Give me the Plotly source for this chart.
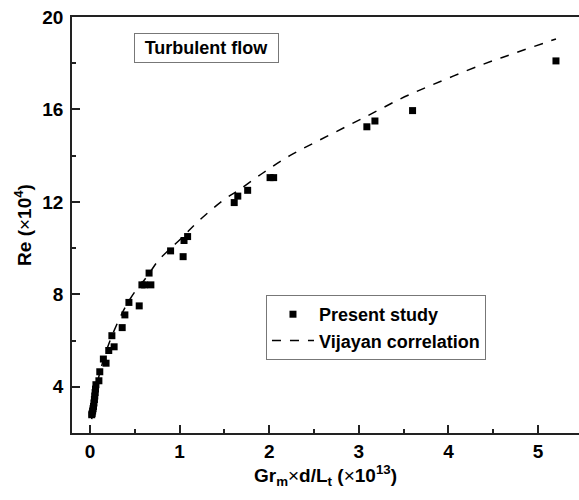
import plotly.graph_objects as go

# Present study data (Gr_m*d/L_t in 1e13, Re in 1e4)
study_x = [5.20, 3.60, 3.18, 3.09, 2.05, 2.01, 1.76, 1.65, 1.61, 1.09, 1.05, 0.90, 1.04,
           0.66, 0.58, 0.61, 0.68, 0.435, 0.55, 0.39, 0.36, 0.245, 0.27, 0.21, 0.15, 0.18,
           0.11, 0.10, 0.067, 0.062, 0.058, 0.054, 0.050, 0.045, 0.040, 0.035, 0.030,
           0.025, 0.020]
study_y = [18.10, 15.95, 15.50, 15.25, 13.05, 13.05, 12.50, 12.25, 11.97, 10.50, 10.33, 9.88, 9.63,
           8.92, 8.41, 8.41, 8.41, 7.65, 7.50, 7.11, 6.56, 6.21, 5.73, 5.57, 5.20, 5.02,
           4.65, 4.26, 4.09, 3.90, 3.75, 3.60, 3.45, 3.30, 3.15, 3.05, 2.95,
           2.85, 2.79]

# Vijayan correlation curve
curve_x = [0.02, 0.05, 0.10, 0.17, 0.24, 0.33, 0.41, 0.50, 0.65, 0.76, 0.89, 1.04, 1.19,
           1.49, 1.66, 1.93, 2.23, 2.53, 2.86, 3.16, 3.46, 3.72, 4.35, 4.75, 5.20]
curve_y = [2.60, 3.45, 4.45, 5.40, 6.15, 6.95, 7.55, 8.10, 8.84, 9.45, 9.95, 10.50, 11.09,
           12.08, 12.51, 13.25, 14.00, 14.61, 15.26, 15.85, 16.45, 16.90, 17.90, 18.45, 19.05]

x_ticks = [0, 1, 2, 3, 4, 5]
y_ticks = [4, 8, 12, 16, 20]

FONT = "Liberation Sans, Arial, sans-serif"
AX = "#222222"

fig = go.Figure()
fig.add_trace(go.Scatter(
    x=study_x, y=study_y, mode="markers", name="<b>Present study</b>",
    marker=dict(symbol="square", size=7, color="black"),
))
fig.add_trace(go.Scatter(
    x=curve_x, y=curve_y, mode="lines", name="<b>Vijayan correlation</b>",
    line=dict(color="black", width=1.5, dash="dash", shape="spline"),
))

axis_common = dict(
    showgrid=False, zeroline=False, showline=True, linecolor=AX, linewidth=1.5,
    ticks="inside", tickcolor=AX, tickwidth=1.5, ticklen=8,
    tickfont=dict(family=FONT, size=19, color="black"),
    automargin=False,
)

fig.update_layout(
    width=579, height=500,
    margin=dict(l=72, r=0, t=17, b=67),
    paper_bgcolor="white", plot_bgcolor="white",
    font=dict(family=FONT, color="black"),
    showlegend=True,
    legend=dict(
        x=0.3826, y=0.3317, xanchor="left", yanchor="top",
        bordercolor="#777777", borderwidth=1, bgcolor="white",
        font=dict(family=FONT, size=18, color="black"),
        itemwidth=42, tracegroupgap=0,
    ),
    xaxis=dict(
        **axis_common, range=[-0.2, 5.457], mirror=True,
        tickvals=x_ticks, ticktext=[f"<b>{v}</b>" for v in x_ticks],
        minor=dict(ticks="inside", dtick=0.5, tick0=0, ticklen=4, tickcolor=AX, tickwidth=1.5),
        title=dict(text="<b>Gr<sub>m</sub></b>×<b>d/L<sub>t</sub> (</b>×<b>10<sup>13</sup>)</b>",
                   font=dict(family=FONT, size=19), standoff=8),
    ),
    yaxis=dict(
        **axis_common, range=[2, 20],
        tickvals=y_ticks, ticktext=[f"<b>{v}</b>" for v in y_ticks],
        ticklabelstandoff=3,
        minor=dict(ticks="inside", dtick=2, tick0=0, ticklen=4, tickcolor=AX, tickwidth=1.5),
        title=dict(text="<b>Re (</b>×<b>10<sup>4</sup>)</b>",
                   font=dict(family=FONT, size=19), standoff=6),
    ),
)

fig.add_annotation(
    xref="paper", yref="paper", x=0.2653, y=0.9255, xanchor="center", yanchor="middle",
    text="<b>Turbulent flow</b>", showarrow=False,
    font=dict(family=FONT, size=18, color="black"),
    bordercolor="#777777", borderwidth=1, borderpad=1, bgcolor="white",
    width=141, height=26,
)

fig.write_html(
    "out.html",
    config={"displayModeBar": False},
    post_script="document.body.style.margin='0';document.body.style.overflow='hidden';",
)
